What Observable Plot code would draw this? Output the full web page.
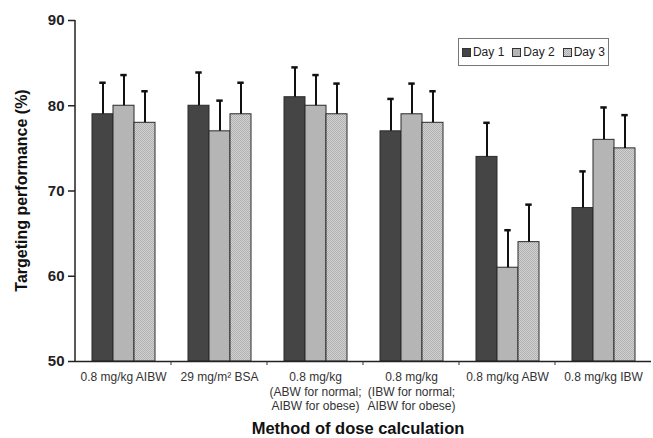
<!DOCTYPE html>
<html>
<head>
<meta charset="utf-8">
<script src="https://cdn.jsdelivr.net/npm/d3@7"></script>
<script src="https://cdn.jsdelivr.net/npm/@observablehq/plot@0.6"></script>
<style>
  html, body { margin: 0; padding: 0; background: #fff; }
  #wrap { position: relative; width: 653px; height: 438px; font-family: "Liberation Sans", Arial, sans-serif; }
  #legend { position: absolute; left: 458px; top: 38px; width: 149px; height: 26px; border: 1px solid #777;
    background: #fff; display: flex; align-items: center; justify-content: center; gap: 8px; font-size: 12px; color: #222; }
  #legend .item { display: flex; align-items: center; gap: 2px; }
  #legend .sw { width: 7px; height: 7px; border: 1px solid #333; display: inline-block; }
</style>
</head>
<body>
<div id="wrap"></div>
<script>
const groups = [
  "0.8 mg/kg AIBW",
  "29 mg/m² BSA",
  "0.8 mg/kg\n(ABW for normal;\nAIBW for obese)",
  "0.8 mg/kg\n(IBW for normal;\nAIBW for obese)",
  "0.8 mg/kg ABW",
  "0.8 mg/kg IBW"
];
const days = ["Day 1", "Day 2", "Day 3"];
const day1 = [79, 80, 81, 77, 74, 68];
const day2 = [80, 77, 80, 79, 61, 76];
const day3 = [78, 79, 79, 78, 64, 75];
const err1 = [3.7, 3.9, 3.5, 3.8, 4.0, 4.3];
const err2 = [3.6, 3.6, 3.6, 3.6, 4.4, 3.8];
const err3 = [3.7, 3.7, 3.6, 3.7, 4.4, 3.9];
const yTicks = [50, 60, 70, 80, 90];
const xTitle = "Method of dose calculation";
const yTitle = "Targeting performance (%)";

const series = [day1, day2, day3];
const errs = [err1, err2, err3];
const rows = [];
groups.forEach((g, i) => days.forEach((d, j) => rows.push({group: g, day: d, value: series[j][i], top: series[j][i] + errs[j][i]})));

const fills = ["#454545", "#b5b5b5", "url(#dots)"];

const chart = Plot.plot({
  width: 653,
  height: 438,
  marginLeft: 73,
  marginRight: 0,
  marginTop: 20,
  marginBottom: 77,
  style: {fontFamily: "'Liberation Sans', Arial, sans-serif", background: "#fff"},
  fx: {domain: groups, paddingInner: 0, paddingOuter: 0, label: null},
  x: {domain: days, paddingInner: 0, paddingOuter: 0.73, axis: null},
  y: {domain: [50, 90], label: null},
  color: {domain: days, range: fills},
  marks: [
    Plot.barY(rows, {fx: "group", x: "day", y1: 50, y2: "value", fill: "day", stroke: "#2a2a2a", strokeWidth: 1}),
    Plot.ruleX(rows, {fx: "group", x: "day", y1: "value", y2: "top", stroke: "#111", strokeWidth: 2}),
    Plot.tickY(rows, {fx: "group", x: "day", y: "top", stroke: "#111", strokeWidth: 2.5, insetLeft: 7.3, insetRight: 7.3}),
    Plot.ruleY([50], {stroke: "#222", strokeWidth: 1.5}),
    Plot.axisY({ticks: yTicks, tickSize: 7, tickPadding: 4, fontSize: 15, fontWeight: "bold", color: "#222", label: null, strokeWidth: 1.5}),
    Plot.axisFx({anchor: "bottom", tickSize: 0, tickPadding: 10, fontSize: 12, color: "#333", label: null, lineHeight: 1.17})
  ]
});

// pattern for Day 3 stipple
const svg = d3.select(chart);
const defs = svg.insert("defs", ":first-child");
const pat = defs.append("pattern").attr("id", "dots").attr("patternUnits", "userSpaceOnUse").attr("width", 2).attr("height", 2);
pat.append("rect").attr("width", 2).attr("height", 2).attr("fill", "#d2d2d2");
pat.append("rect").attr("width", 1).attr("height", 1).attr("fill", "#b0b0b0");
pat.append("rect").attr("x", 1).attr("y", 1).attr("width", 1).attr("height", 1).attr("fill", "#b0b0b0");

// enforce font sizes on axis labels
svg.selectAll('[aria-label^="fx-axis"]').style("font-size", "12px");
svg.selectAll('[aria-label^="fx-axis"] text').style("font-size", "12px");

// y axis line and group boundary ticks, from the library scales
const ys = chart.scale("y");
const fxs = chart.scale("fx");
const x0 = fxs.apply(groups[0]);
const yTop = ys.apply(90), yBot = ys.apply(50);
svg.append("line").attr("x1", x0).attr("x2", x0).attr("y1", yTop).attr("y2", yBot).attr("stroke", "#222").attr("stroke-width", 1.5);
groups.slice(1).forEach(g => {
  const bx = fxs.apply(g);
  svg.append("line").attr("x1", bx).attr("x2", bx).attr("y1", yBot).attr("y2", yBot + 4).attr("stroke", "#333").attr("stroke-width", 1);
});
// titles
svg.append("text").attr("x", 358).attr("y", 434).attr("text-anchor", "middle")
  .style("font-size", "16.5px").attr("font-weight", "bold").attr("fill", "#111").text(xTitle);
svg.append("text").attr("transform", `translate(27,${(yTop + yBot) / 2}) rotate(-90)`).attr("text-anchor", "middle")
  .style("font-size", "16px").attr("font-weight", "bold").attr("fill", "#111").text(yTitle);

const wrap = document.getElementById("wrap");
wrap.appendChild(chart);

// legend
const legend = document.createElement("div");
legend.id = "legend";
days.forEach((d, j) => {
  const it = document.createElement("span");
  it.className = "item";
  const sw = document.createElement("span");
  sw.className = "sw";
  sw.style.background = j === 2 ? "repeating-conic-gradient(#b0b0b0 0% 25%, #d2d2d2 0% 50%) 0 0/2px 2px" : fills[j];
  it.appendChild(sw);
  const t = document.createElement("span");
  t.textContent = d;
  it.appendChild(t);
  legend.appendChild(it);
});
wrap.appendChild(legend);
</script>
</body>
</html>
